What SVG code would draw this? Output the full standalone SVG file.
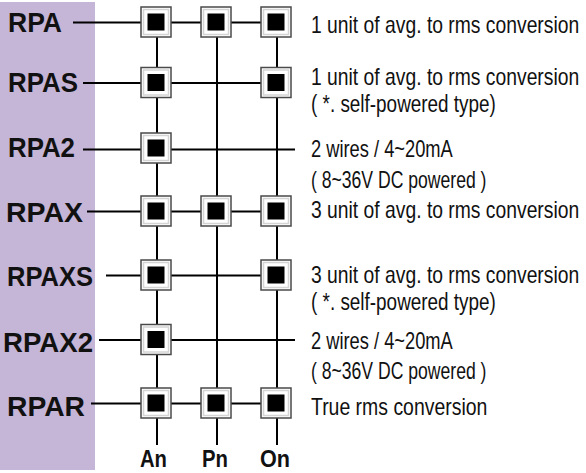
<svg xmlns="http://www.w3.org/2000/svg" width="586" height="473" viewBox="0 0 586 473">
<defs>
<style>
.lbl{font-family:"Liberation Sans",Arial,sans-serif;font-weight:bold;font-size:28px;fill:#111}
.bot{font-family:"Liberation Sans",Arial,sans-serif;font-weight:bold;font-size:24px;fill:#111}
.desc{font-family:"Liberation Sans",Arial,sans-serif;font-size:23px;fill:#111}
.wire{stroke:#000;stroke-width:2;fill:none}
</style>
<g id="nodebox">
<rect x="-15" y="-15" width="30" height="30" fill="#fff" stroke="#4a4a4a" stroke-width="1.5"/>
<rect x="-12.5" y="-12.5" width="25" height="25" fill="none" stroke="#d4d4d4" stroke-width="1.5"/>
<rect x="-8.5" y="-8.5" width="17" height="17" fill="#000"/>
</g>
</defs>
<rect x="0" y="2" width="95" height="468" fill="#c5b5d7"/>
<g id="connectors" class="wire">
<line x1="157" y1="22" x2="157" y2="445"/>
<line x1="217" y1="22" x2="217" y2="445"/>
<line x1="277" y1="22" x2="277" y2="445"/>
<line x1="73" y1="22.5" x2="276" y2="22.5"/>
<line x1="83" y1="83" x2="276" y2="83"/>
<line x1="83" y1="149.5" x2="295" y2="149.5"/>
<line x1="87" y1="211.5" x2="276" y2="211.5"/>
<line x1="106" y1="275.5" x2="276" y2="275.5"/>
<line x1="99" y1="340" x2="295" y2="340"/>
<line x1="91" y1="403.5" x2="276" y2="403.5"/>
</g>
<g id="RPA"><text class="lbl" x="8" y="32" textLength="54" lengthAdjust="spacingAndGlyphs">RPA</text>
<use href="#nodebox" x="156" y="22"/><use href="#nodebox" x="216" y="22"/><use href="#nodebox" x="276" y="22"/>
<text class="desc" transform="translate(311,33) scale(0.84,1)">1 unit of avg. to rms conversion</text></g>
<g id="RPAS"><text class="lbl" x="8" y="92" textLength="70" lengthAdjust="spacingAndGlyphs">RPAS</text>
<use href="#nodebox" x="156" y="82.5"/><use href="#nodebox" x="276" y="82.5"/>
<text class="desc" transform="translate(311,85) scale(0.84,1)">1 unit of avg. to rms conversion</text>
<text class="desc" transform="translate(311,112) scale(0.822,1)">( *. self-powered type)</text></g>
<g id="RPA2"><text class="lbl" x="8" y="157" textLength="67" lengthAdjust="spacingAndGlyphs">RPA2</text>
<use href="#nodebox" x="156" y="148"/>
<text class="desc" transform="translate(311,157) scale(0.796,1)">2 wires / 4~20mA</text>
<text class="desc" transform="translate(311,188) scale(0.765,1)">( 8~36V DC powered )</text></g>
<g id="RPAX"><text class="lbl" x="6" y="222" textLength="77" lengthAdjust="spacingAndGlyphs">RPAX</text>
<use href="#nodebox" x="156" y="211"/><use href="#nodebox" x="216" y="211"/><use href="#nodebox" x="276" y="211"/>
<text class="desc" transform="translate(311,218) scale(0.84,1)">3 unit of avg. to rms conversion</text></g>
<g id="RPAXS"><text class="lbl" x="7" y="286" textLength="86" lengthAdjust="spacingAndGlyphs">RPAXS</text>
<use href="#nodebox" x="156" y="275"/><use href="#nodebox" x="276" y="275"/>
<text class="desc" transform="translate(311,283) scale(0.84,1)">3 unit of avg. to rms conversion</text>
<text class="desc" transform="translate(311,310) scale(0.822,1)">( *. self-powered type)</text></g>
<g id="RPAX2"><text class="lbl" x="3" y="352" textLength="90" lengthAdjust="spacingAndGlyphs">RPAX2</text>
<use href="#nodebox" x="156" y="339.5"/>
<text class="desc" transform="translate(311,349) scale(0.796,1)">2 wires / 4~20mA</text>
<text class="desc" transform="translate(311,379) scale(0.765,1)">( 8~36V DC powered )</text></g>
<g id="RPAR"><text class="lbl" x="7" y="416" textLength="78" lengthAdjust="spacingAndGlyphs">RPAR</text>
<use href="#nodebox" x="156" y="403"/><use href="#nodebox" x="216" y="403"/><use href="#nodebox" x="276" y="403"/>
<text class="desc" transform="translate(311,415) scale(0.845,1)">True rms conversion</text></g>
<g id="An"><text class="bot" x="140" y="467" textLength="27" lengthAdjust="spacingAndGlyphs">An</text></g>
<g id="Pn"><text class="bot" x="202" y="467" textLength="26" lengthAdjust="spacingAndGlyphs">Pn</text></g>
<g id="On"><text class="bot" x="260" y="467" textLength="30" lengthAdjust="spacingAndGlyphs">On</text></g>
</svg>
